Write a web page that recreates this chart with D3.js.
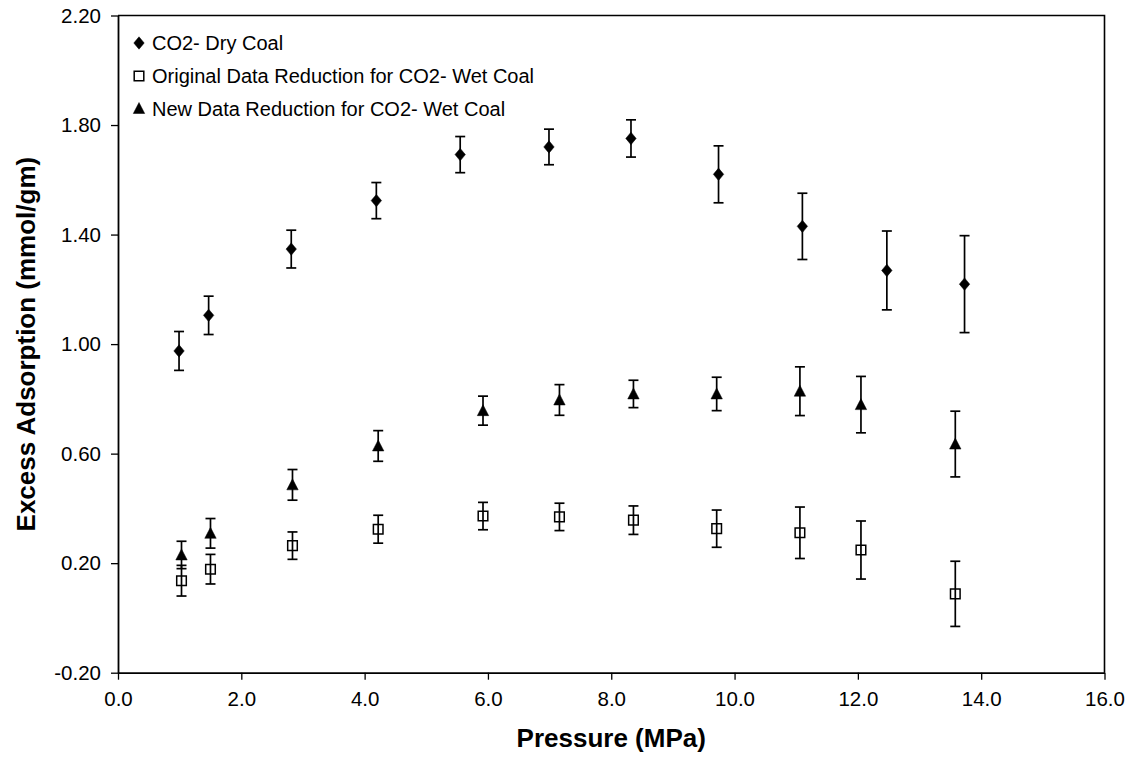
<!DOCTYPE html>
<html>
<head>
<meta charset="utf-8">
<script src="https://cdn.jsdelivr.net/npm/d3@7"></script>
<style>
  html, body { margin: 0; padding: 0; background: #fff; }
  svg { display: block; font-family: Arial, "Liberation Sans", sans-serif; }
</style>
</head>
<body>
<svg id="chart" width="1139" height="765"></svg>
<script>
// ---- data ----
const dryX   = [0.99, 1.47, 2.81, 4.19, 5.55, 6.99, 8.32, 9.74, 11.10, 12.47, 13.73];
const dryY   = [0.975, 1.105, 1.347, 1.524, 1.692, 1.720, 1.751, 1.620, 1.430, 1.269, 1.219];
const dryErr = [0.071, 0.070, 0.069, 0.066, 0.066, 0.065, 0.068, 0.104, 0.121, 0.144, 0.177];

const wetX      = [1.03, 1.50, 2.83, 4.22, 5.92, 7.16, 8.36, 9.71, 11.06, 12.05, 13.58];
const origY     = [0.136, 0.178, 0.264, 0.324, 0.372, 0.369, 0.357, 0.326, 0.311, 0.248, 0.088];
const origErr   = [0.056, 0.054, 0.050, 0.051, 0.050, 0.050, 0.052, 0.068, 0.094, 0.106, 0.119];
const newY      = [0.230, 0.309, 0.486, 0.628, 0.757, 0.796, 0.818, 0.818, 0.828, 0.779, 0.635];
const newErr    = [0.050, 0.054, 0.056, 0.056, 0.053, 0.056, 0.050, 0.061, 0.089, 0.103, 0.120];

const xTicks = [0, 2, 4, 6, 8, 10, 12, 14, 16];
const yTicks = [-0.20, 0.20, 0.60, 1.00, 1.40, 1.80, 2.20];

const seriesNames = [
  "CO2- Dry Coal",
  "Original Data Reduction for CO2- Wet Coal",
  "New Data Reduction for CO2- Wet Coal"
];
const xTitle = "Pressure (MPa)";
const yTitle = "Excess Adsorption (mmol/gm)";

// ---- layout ----
const L = 118, R = 1104.5, T = 15.5, B = 672.7;
const svg = d3.select("#chart");

const x = d3.scaleLinear().domain([0, 16]).range([L, R]);
const y = d3.scaleLinear().domain([-0.2, 2.2]).range([B, T]);

// frame (top & right)
svg.append("path")
  .attr("d", `M${L},${T}H${R}V${B}`)
  .attr("fill", "none").attr("stroke", "#000").attr("stroke-width", 1.6);

// axes
const fmtX = d => d.toFixed(1);
const fmtY = d => d.toFixed(2);
const xAxis = d3.axisBottom(x).tickValues(xTicks).tickFormat(fmtX)
  .tickSize(7).tickPadding(12).tickSizeOuter(0);
const yAxis = d3.axisLeft(y).tickValues(yTicks).tickFormat(fmtY)
  .tickSize(7).tickPadding(10).tickSizeOuter(0);

const gx = svg.append("g").attr("transform", `translate(0,${B})`).call(xAxis);
const gy = svg.append("g").attr("transform", `translate(${L},0)`).call(yAxis);
[gx, gy].forEach(g => {
  g.select(".domain").attr("stroke", "#000").attr("stroke-width", 1.8);
  g.selectAll(".tick line").attr("stroke", "#000").attr("stroke-width", 1.3);
  g.selectAll(".tick text").attr("fill", "#000").style("font-size", "20.5px")
    .style("font-family", "Arial, 'Liberation Sans', sans-serif");
});

// titles
svg.append("text")
  .attr("x", (L + R) / 2).attr("y", 747)
  .attr("text-anchor", "middle")
  .style("font-size", "26px").style("font-weight", "bold")
  .text(xTitle);
svg.append("text")
  .attr("transform", `translate(35,${(T + B) / 2}) rotate(-90)`)
  .attr("text-anchor", "middle")
  .style("font-size", "26px").style("font-weight", "bold")
  .text(yTitle);

// marker shapes
const diamondPath = "M0,-6.2L5.2,0L0,6.2L-5.2,0Z";
const trianglePath = "M0,-6L5.7,5L-5.7,5Z";
const squarePath = "M-4.8,-4.8H4.8V4.8H-4.8Z";

function drawSeries(xs, ys, errs, shape, fill) {
  const data = xs.map((v, i) => ({ x: v, y: ys[i], e: errs[i] }));
  const g = svg.append("g");
  const eb = g.selectAll("g.eb").data(data).enter().append("g")
    .attr("stroke", "#000").attr("stroke-width", 1.7);
  eb.append("line")
    .attr("x1", d => x(d.x)).attr("x2", d => x(d.x))
    .attr("y1", d => y(d.y + d.e)).attr("y2", d => y(d.y - d.e));
  eb.append("line")
    .attr("x1", d => x(d.x) - 5).attr("x2", d => x(d.x) + 5)
    .attr("y1", d => y(d.y + d.e)).attr("y2", d => y(d.y + d.e));
  eb.append("line")
    .attr("x1", d => x(d.x) - 5).attr("x2", d => x(d.x) + 5)
    .attr("y1", d => y(d.y - d.e)).attr("y2", d => y(d.y - d.e));
  g.selectAll("path.m").data(data).enter().append("path")
    .attr("d", shape)
    .attr("transform", d => `translate(${x(d.x)},${y(d.y)})`)
    .attr("fill", fill ? "#000" : "none")
    .attr("stroke", "#000").attr("stroke-width", fill ? 0.5 : 1.5);
}

drawSeries(dryX, dryY, dryErr, diamondPath, true);
drawSeries(wetX, origY, origErr, squarePath, false);
drawSeries(wetX, newY, newErr, trianglePath, true);

// legend
const legendShapes = [diamondPath, squarePath, trianglePath];
const legendFill = [true, false, true];
const legendY = [43, 76, 108.5];
const lg = svg.append("g");
seriesNames.forEach((name, i) => {
  lg.append("path").attr("d", legendShapes[i])
    .attr("transform", `translate(139,${legendY[i]})`)
    .attr("fill", legendFill[i] ? "#000" : "none")
    .attr("stroke", "#000").attr("stroke-width", legendFill[i] ? 0.5 : 1.5);
  lg.append("text").attr("x", 152).attr("y", legendY[i] + 7)
    .style("font-size", "20px").text(name);
});
</script>
</body>
</html>
